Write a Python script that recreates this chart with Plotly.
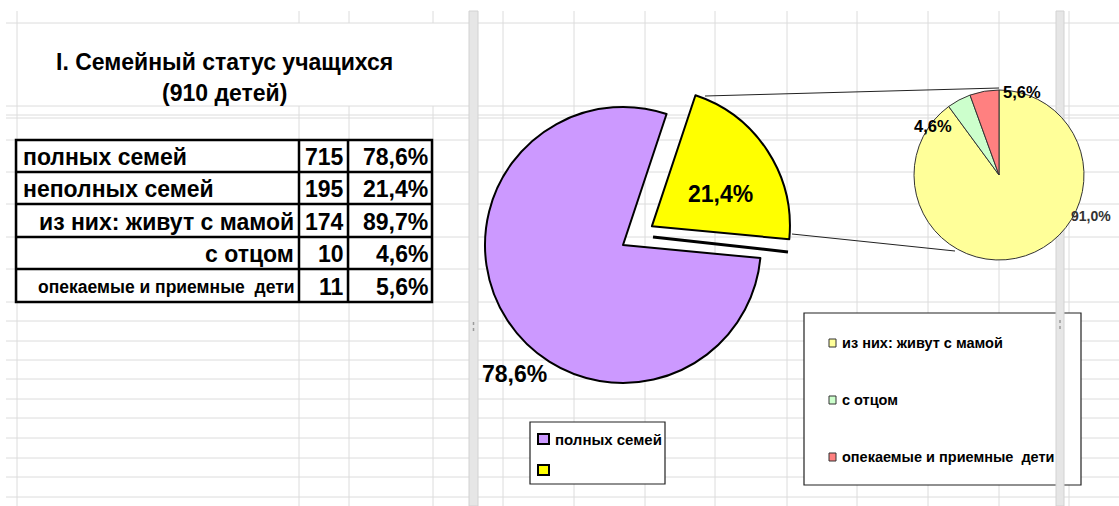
import plotly.graph_objects as go

# ---------------- data ----------------
title_lines = ["I. Семейный статус учащихся", "(910 детей)"]
table_labels = ["полных семей", "неполных семей", "из них: живут с мамой", "с отцом",
                "опекаемые и приемные  дети"]
table_counts = [715, 195, 174, 10, 11]
table_pcts = ["78,6%", "21,4%", "89,7%", "4,6%", "5,6%"]

main_labels = ["неполных семей", "полных семей"]
main_values = [21.4, 78.6]
main_text = ["21,4%", "78,6%"]
main_legend_text = ["полных семей", ""]

sub_labels = ["из них: живут с мамой", "с отцом", "опекаемые и приемные  дети"]
sub_values = [91.0, 4.6, 5.6]
sub_text = ["91,0%", "4,6%", "5,6%"]

# ---------------- styling ----------------
W, H = 1119, 506
FONT = "Liberation Sans, Arial, sans-serif"
GRID = "#dcdcdc"
main_colors = ["#FFFF00", "#CC99FF"]
sub_colors = ["#FFFF99", "#CCFFCC", "#FF8080"]


def px(x):
    return x / W


def py(y):
    return 1 - y / H


shapes = []
annotations = []


def line(x0, y0, x1, y1, color, width, layer="below", dash=None):
    d = dict(type="line", xref="paper", yref="paper", x0=px(x0), y0=py(y0),
             x1=px(x1), y1=py(y1), line=dict(color=color, width=width), layer=layer)
    if dash:
        d["line"]["dash"] = dash
    shapes.append(d)


def rect(x0, y0, x1, y1, fill, lcolor, lwidth, layer="below"):
    shapes.append(dict(type="rect", xref="paper", yref="paper", x0=px(x0), y0=py(y0),
                       x1=px(x1), y1=py(y1), fillcolor=fill,
                       line=dict(color=lcolor, width=lwidth), layer=layer))


def text(x, y, s, size, anchor="center", color="black", bold=True):
    annotations.append(dict(xref="paper", yref="paper", x=px(x), y=py(y),
                            text=("<b>%s</b>" % s) if bold else s, showarrow=False,
                            xanchor=anchor, yanchor="middle",
                            font=dict(family=FONT, size=size, color=color)))


# ---- spreadsheet grid ----
grid_rows = [23, 106, 115, 118, 140, 172, 204, 237, 269, 302, 321, 341, 360, 379,
             399, 418, 438, 458, 477, 497]
for r in grid_rows:
    line(6, r, W, r, GRID, 1)
line(17, 11, 17, H, GRID, 1)
for c in [299, 349, 433]:
    line(c, 11, c, 23, GRID, 1)
    line(c, 106, c, H, GRID, 1)
for c in [503, 574, 645, 715, 787, 857, 928, 999, 1069]:
    line(c, 11, c, H, GRID, 1)

# ---- legend boxes (below split bars) ----
rect(530, 422, 665, 484, "white", "#222", 1.2)
rect(804, 313, 1081, 485, "white", "#222", 1.2)

# ---- split bars ----
for (a, b, hy) in [(469, 478, 328), (1056, 1064, 326)]:
    rect(a, 11, b, H, "#e6e6e6", "#d2d2d2", 1)
    line((a + b) / 2, hy - 6, (a + b) / 2, hy + 6, "#9a9a9a", 1.5, dash="dot")

# ---- table ----
row_y = [140, 172, 204, 237, 269, 302]
rect(16, 140, 432, 302, "rgba(0,0,0,0)", "black", 2.5, layer="above")
for yy in row_y[1:-1]:
    line(16, yy, 432, yy, "black", 2.5, layer="above")
line(299, 140, 299, 302, "black", 2.5, layer="above")
line(348, 140, 348, 302, "black", 2.5, layer="above")
for i, lab in enumerate(table_labels):
    yc = (row_y[i] + row_y[i + 1]) / 2 + 1
    if i < 2:
        text(21, yc, lab, 23, anchor="left")
    elif i < 4:
        text(296, yc, lab, 23, anchor="right")
    else:
        text(296, yc, lab, 17.5, anchor="right")
    text(346, yc, str(table_counts[i]), 23, anchor="right")
    text(430, yc, table_pcts[i], 23, anchor="right")

# ---- title ----
text(224, 62, title_lines[0], 23)
text(224, 93, title_lines[1], 23)

# ---- connector lines between pies ----
line(705, 96, 999, 88, "#222", 1, layer="above")
line(792, 234, 955, 251, "#222", 1, layer="above")
line(653, 237, 788, 252, "black", 3, layer="above")

# ---- pie labels ----
text(720, 194, main_text[0], 23)
text(514, 374, main_text[1], 23)
text(1091, 216, sub_text[0], 14, color="#333")
text(933, 126, sub_text[1], 16.5)
text(1022, 92, sub_text[2], 16.5)

# ---- legend 1 ----
leg1_y = [439, 470]
for i, t in enumerate(main_legend_text):
    rect(538, leg1_y[i] - 5, 549, leg1_y[i] + 5, main_colors[1 - i], "black", 2,
         layer="above")
    if t:
        text(553, leg1_y[i], t, 15, anchor="left")

# ---- legend 2 ----
leg2_y = [343, 400, 457]
for i, t in enumerate(sub_labels):
    rect(829, leg2_y[i] - 4, 836, leg2_y[i] + 4, sub_colors[i], "#333", 1, layer="above")
    text(840, leg2_y[i], t, 14.5, anchor="left")

# ---------------- pies ----------------
r_main, pull = 138, 0.25
s = r_main * (1 + pull)
cx, cy = 623, 245
fig = go.Figure()
fig.add_trace(go.Pie(
    labels=main_labels, values=main_values, sort=False, direction="clockwise",
    rotation=18.4, pull=[pull, 0], textinfo="none", hoverinfo="label+percent",
    marker=dict(colors=main_colors, line=dict(color="black", width=2)),
    domain=dict(x=[px(cx - s), px(cx + s)], y=[py(cy + s), py(cy - s)]),
    showlegend=False))

r_sub = 85
sx, sy = 999, 175
fig.add_trace(go.Pie(
    labels=sub_labels, values=sub_values, sort=False, direction="clockwise",
    rotation=0, textinfo="none", hoverinfo="label+percent",
    marker=dict(colors=sub_colors, line=dict(color="#333", width=1)),
    domain=dict(x=[px(sx - r_sub), px(sx + r_sub)], y=[py(sy + r_sub), py(sy - r_sub)]),
    showlegend=False))

fig.update_layout(
    width=W, height=H, margin=dict(l=0, r=0, t=0, b=0),
    paper_bgcolor="white", plot_bgcolor="white",
    shapes=shapes, annotations=annotations, showlegend=False,
)
fig.write_html("out.html", config={"displayModeBar": False},
               post_script="document.body.style.margin='0';document.body.style.overflow='hidden';")
